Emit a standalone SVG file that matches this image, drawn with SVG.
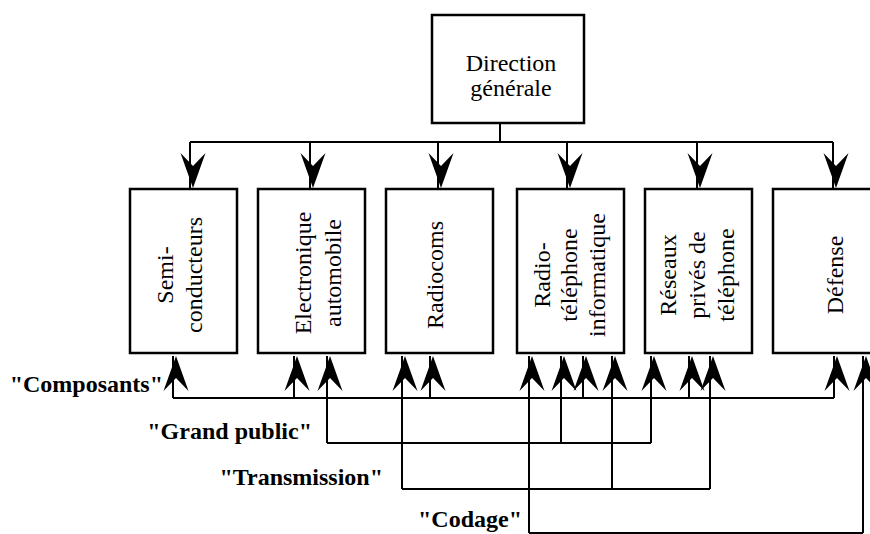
<svg xmlns="http://www.w3.org/2000/svg" width="870" height="534" viewBox="0 0 870 534">
<style>
  .box { fill: #fff; stroke: #000; stroke-width: 2.5; }
  .t { font-family: "Liberation Serif", "Times New Roman", serif; font-size: 24px; fill: #000; }
  .lbl { font-family: "Liberation Serif", "Times New Roman", serif; font-size: 24px; font-weight: bold; fill: #000; text-anchor: end; }
  .ln { fill: none; stroke: #000; stroke-width: 2; }
  .dn { marker-end: url(#ahD); }
  .up { marker-end: url(#ahU); }
</style>
<defs>
  <marker id="ahD" markerUnits="userSpaceOnUse" markerWidth="40" markerHeight="40" viewBox="-38 -20 40 40" refX="0" refY="0" orient="auto" overflow="visible">
    <path d="M0,-3 L-35,-15.5 L-22,-3 L-35,9.5 Z" fill="#000"/>
  </marker>
  <marker id="ahU" markerUnits="userSpaceOnUse" markerWidth="40" markerHeight="40" viewBox="-38 -20 40 40" refX="0" refY="0" orient="auto" overflow="visible">
    <path d="M0,3 L-35,-9.5 L-22,3 L-35,15.5 Z" fill="#000"/>
  </marker>
</defs>
<rect width="870" height="534" fill="#fff"/>

<g id="direction">
  <rect class="box" x="432" y="15" width="152" height="108"/>
  <text class="t" text-anchor="middle"><tspan x="511" y="71">Direction</tspan><tspan x="511" y="96">générale</tspan></text>
</g>
<g id="semi">
  <rect class="box" x="130" y="189" width="107" height="164"/>
  <text class="t" text-anchor="middle" transform="translate(0,275) rotate(-90)"><tspan x="0" y="173">Semi-</tspan><tspan x="0" y="202">conducteurs</tspan></text>
</g>
<g id="electronique">
  <rect class="box" x="258" y="189" width="107" height="164"/>
  <text class="t" text-anchor="middle" transform="translate(0,273) rotate(-90)"><tspan x="0" y="311">Electronique</tspan><tspan x="0" y="341">automobile</tspan></text>
</g>
<g id="radiocoms">
  <rect class="box" x="386" y="189" width="107" height="164"/>
  <text class="t" text-anchor="middle" transform="translate(0,275) rotate(-90)"><tspan x="0" y="443">Radiocoms</tspan></text>
</g>
<g id="radiotelephone">
  <rect class="box" x="517" y="189" width="107" height="164"/>
  <text class="t" text-anchor="middle" transform="translate(0,275) rotate(-90)"><tspan x="0" y="550">Radio-</tspan><tspan x="0" y="577">téléphone</tspan><tspan x="0" y="605">informatique</tspan></text>
</g>
<g id="reseaux">
  <rect class="box" x="645" y="189" width="107" height="164"/>
  <text class="t" text-anchor="middle" transform="translate(0,275) rotate(-90)"><tspan x="0" y="676">Réseaux</tspan><tspan x="0" y="705">privés de</tspan><tspan x="0" y="734">téléphone</tspan></text>
</g>
<g id="defense">
  <rect class="box" x="773" y="189" width="107" height="164"/>
  <text class="t" text-anchor="middle" transform="translate(0,275) rotate(-90)"><tspan x="0" y="843">Défense</tspan></text>
</g>

<g id="connectors">
  <path class="ln" d="M500,123 V142 M190,142 H833"/>
  <path class="ln dn" d="M190,142 V188"/>
  <path class="ln dn" d="M310,142 V188"/>
  <path class="ln dn" d="M438,142 V188"/>
  <path class="ln dn" d="M567,142 V188"/>
  <path class="ln dn" d="M697,142 V188"/>
  <path class="ln dn" d="M833,142 V188"/>

  <path class="ln" d="M173,398 H834"/>
  <path class="ln up" d="M173,398 V356"/>
  <path class="ln up" d="M294,398 V356"/>
  <path class="ln up" d="M430,398 V356"/>
  <path class="ln up" d="M583,398 V356"/>
  <path class="ln up" d="M689,398 V356"/>
  <path class="ln up" d="M834,398 V356"/>

  <path class="ln" d="M327,443 H651"/>
  <path class="ln up" d="M327,443 V356"/>
  <path class="ln up" d="M561,443 V356"/>
  <path class="ln up" d="M651,443 V356"/>

  <path class="ln" d="M402,489 H710"/>
  <path class="ln up" d="M402,489 V356"/>
  <path class="ln up" d="M612,489 V356"/>
  <path class="ln up" d="M710,489 V356"/>

  <path class="ln" d="M529,533 H863"/>
  <path class="ln up" d="M529,533 V356"/>
  <path class="ln up" d="M863,533 V356"/>
</g>

<g id="labels">
  <text class="lbl" x="163" y="392">"Composants"</text>
  <text class="lbl" x="312" y="439">"Grand public"</text>
  <text class="lbl" x="383" y="485">"Transmission"</text>
  <text class="lbl" x="522" y="527">"Codage"</text>
</g>
</svg>
